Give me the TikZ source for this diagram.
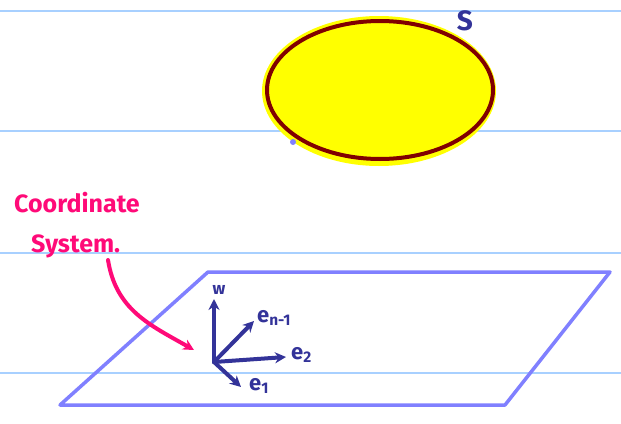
\documentclass[tikz,border=0pt]{standalone}
\usepackage{fontspec}
\setmainfont{Fira Sans}
\usetikzlibrary{arrows.meta}
\definecolor{rule}{HTML}{A8D0FF}
\definecolor{plane}{HTML}{8080FF}
\definecolor{axis}{HTML}{333399}
\definecolor{pinkish}{HTML}{FF0A78}
\definecolor{rim}{HTML}{800000}
\definecolor{fillyel}{HTML}{FFFF00}
\tikzset{
  ruleline/.style={rule, line width=1.2pt},
  vec/.style={axis, line width=4pt, line cap=round, -{Stealth[length=11pt,width=11pt]}},
  veclabel/.style={axis, font=\fontsize{22}{24}\selectfont\bfseries, inner sep=0pt},
  note/.style={pinkish, font=\fontsize{25}{28}\selectfont\bfseries, inner sep=0pt, anchor=west},
}
\begin{document}
\begin{tikzpicture}[x=1pt,y=-1pt]
\useasboundingbox (0,0) rectangle (621,423);
\fill[white] (0,0) rectangle (621,423);
% ruled lines
\foreach \yy in {11,131,253,373} \draw[ruleline] (0,\yy) -- (621,\yy);
% set S
\fill[fillyel] (379,91) ellipse [x radius=117, y radius=75];
\draw[rim, line width=4pt] (380,90) ellipse [x radius=113, y radius=69];
\node[veclabel, font=\fontsize{28}{30}\selectfont\bfseries] (S) at (465,21) {S};
\fill[plane] (293,142) circle (3pt);
% plane W
\coordinate (p1) at (60,405);
\coordinate (p2) at (505,405);
\coordinate (p3) at (610,272);
\coordinate (p4) at (208,272);
\draw[plane, line width=3.5pt, line join=round] (p1) -- (p2) -- (p3) -- (p4) -- cycle;
% coordinate system
\coordinate (o) at (214,362);
\coordinate (tw) at (214,299);
\coordinate (tn) at (254,321);
\coordinate (t2) at (286,357);
\coordinate (t1) at (241,387);
\draw[vec] (o) -- (tw);
\draw[vec] (o) -- (tn);
\draw[vec] (o) -- (t2);
\draw[vec] (o) -- (t1);
\node[veclabel, font=\fontsize{17}{18}\selectfont\bfseries] (lw) at (219,290) {w};
\node[veclabel, anchor=west] (ln) at (257,318) {e\textsubscript{n-1}};
\node[veclabel, anchor=west] (l2) at (291,355) {e\textsubscript{2}};
\node[veclabel, anchor=west] (l1) at (249,386) {e\textsubscript{1}};
% note
\node[note] (c1) at (14,203) {Coordinate};
\node[note] (c2) at (31,246) {System.};
\coordinate (astart) at (108,260);
\coordinate (aend) at (194,350);
\draw[pinkish, line width=4pt, line cap=round, -{Stealth[length=11pt,width=11pt]}]
  (astart) .. controls (116,310) and (150,325) .. (aend);
\end{tikzpicture}
\end{document}
